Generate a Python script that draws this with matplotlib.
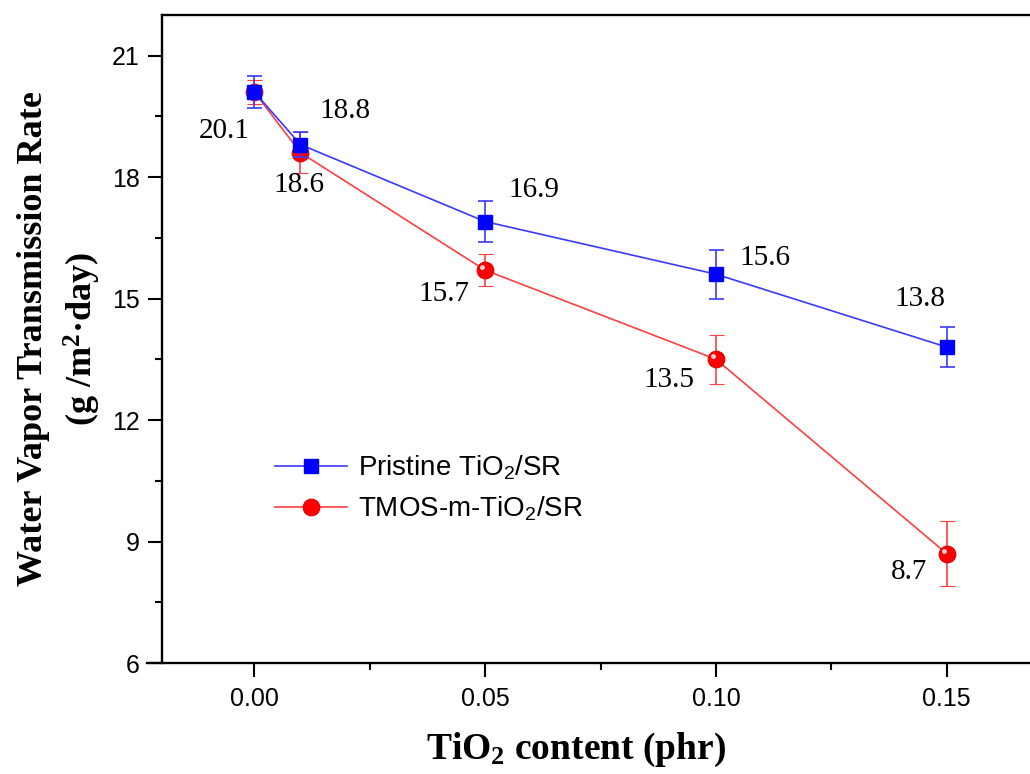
import numpy as np
import matplotlib
matplotlib.use('Agg')
import matplotlib.pyplot as plt
from matplotlib import transforms

plt.rcParams['mathtext.fontset'] = 'custom'
plt.rcParams['mathtext.default'] = 'regular'

# data
content = [0.0, 0.01, 0.05, 0.10, 0.15]
pristine = [20.1, 18.8, 16.9, 15.6, 13.8]
pristine_err = [0.4, 0.3, 0.5, 0.6, 0.5]
tmos = [20.1, 18.6, 15.7, 13.5, 8.7]
tmos_err = [0.3, 0.5, 0.4, 0.6, 0.8]

pristine_labels = ['20.1', '18.8', '16.9', '15.6', '13.8']
tmos_labels = ['', '18.6', '15.7', '13.5', '8.7']
# label offsets (points) relative to the data point
pristine_offsets = [(-22, -28), (32, 24), (35, 23), (35, 12), (-19, 35)]
tmos_offsets = [(0, 0), (-1, -23), (-30, -17), (-34, -15), (-27, -13)]

fig = plt.figure(figsize=(10.30, 7.74), dpi=100)
ax = fig.add_axes([0.1573, 0.1434, 0.8515, 0.8372])

# TMOS modified series (drawn first, blue sits on top)
red = ax.errorbar(content, tmos, yerr=tmos_err, color='#ff4040', lw=1.2,
                  elinewidth=1.2, capsize=5.4, capthick=1.2, zorder=3,
                  marker='o', ms=12, mfc='#ff0000', mec='#e00000', mew=0.8)
# little highlight on the red balls
hl = transforms.offset_copy(ax.transData, fig=fig, x=-2, y=2, units='points')
ax.plot(content, tmos, ls='none', marker='o', ms=3.5, mfc='#ffd0d0',
        mec='none', transform=hl, zorder=4)

blue = ax.errorbar(content, pristine, yerr=pristine_err, color='#3a3aff',
                   lw=1.2, elinewidth=1.2, capsize=5.4, capthick=1.2,
                   zorder=5, marker='s', ms=10.5, mfc='#0000ff', mec='#0000ff')

for x, y, t, off in zip(content, pristine, pristine_labels, pristine_offsets):
    ax.annotate(t, (x, y), xytext=off, textcoords='offset points',
                ha='center', va='center', fontsize=21,
                family='Liberation Serif')
for x, y, t, off in zip(content, tmos, tmos_labels, tmos_offsets):
    if t:
        ax.annotate(t, (x, y), xytext=off, textcoords='offset points',
                    ha='center', va='center', fontsize=21,
                    family='Liberation Serif')

ax.set_xlim(-0.02, 0.17)
ax.set_ylim(6, 22)
ax.set_xticks([0.0, 0.05, 0.10, 0.15])
ax.set_xticks([0.025, 0.075, 0.125], minor=True)
ax.set_yticks([6, 9, 12, 15, 18, 21])
ax.set_yticks([7.5, 10.5, 13.5, 16.5, 19.5], minor=True)
ax.set_xticklabels(['0.00', '0.05', '0.10', '0.15'])

for s in ['left', 'bottom', 'top']:
    ax.spines[s].set_linewidth(1.7)
ax.spines['right'].set_visible(False)
ax.spines['bottom'].set_bounds(-0.0232, 0.17)

ax.tick_params(which='major', direction='out', length=10, width=1.5,
               labelsize=18, pad=6)
ax.tick_params(which='minor', direction='out', length=5, width=1.5)
ax.tick_params(axis='x', which='major', pad=7)
for lab in ax.get_xticklabels() + ax.get_yticklabels():
    lab.set_family('Liberation Sans')

ax.set_xlabel('TiO$_2$ content (phr)', fontsize=27, fontweight='bold',
              family='Liberation Serif')
ax.xaxis.set_label_coords(0.472, -0.105)
ax.set_ylabel('Water Vapor Transmission Rate\n(g /m$^2$·day)', fontsize=26,
              fontweight='bold', family='Liberation Serif', linespacing=1.4)
ax.yaxis.set_label_coords(-0.067, 0.5)

leg = ax.legend([blue[0], red[0]],
                ['Pristine TiO$_2$/SR', 'TMOS-m-TiO$_2$/SR'],
                loc='center left', bbox_to_anchor=(0.129, 0.27), frameon=False,
                prop={'family': 'Liberation Sans', 'size': 20},
                handlelength=2.6, handletextpad=0.4, labelspacing=0.45,
                borderpad=0, borderaxespad=0)

fig.savefig('out.png', dpi=100)
